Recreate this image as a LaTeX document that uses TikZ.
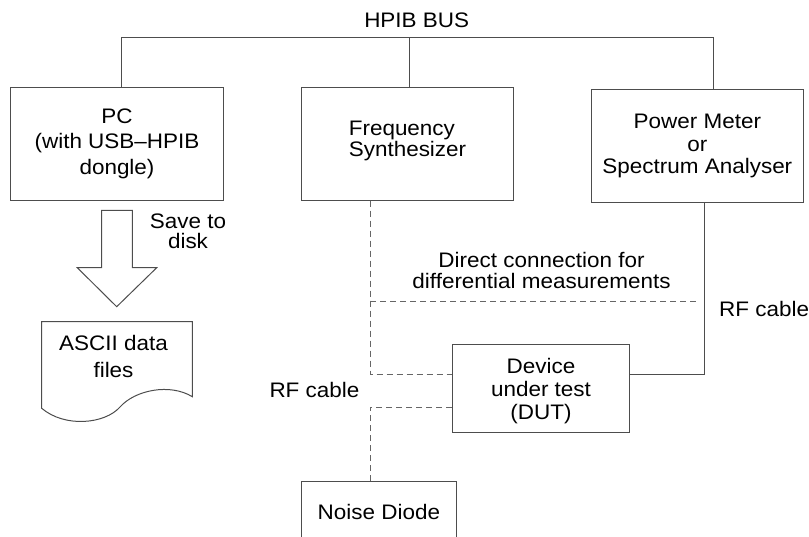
\documentclass[tikz,border=0pt]{standalone}
\usepackage{fontspec}
\setmainfont[FakeStretch=1.07]{Liberation Sans}
\definecolor{linecol}{HTML}{4D4D4D}
\definecolor{dashcol}{HTML}{666666}
\newcommand\txtsize[1]{\fontsize{21}{#1}\selectfont}
\begin{document}
\begin{tikzpicture}[x=1pt,y=-1pt,
  font=\txtsize{22},
  box/.style={draw=linecol,line width=1pt,rectangle,inner sep=0pt,align=center},
  wire/.style={draw=linecol,line width=1pt},
  dashwire/.style={draw=dashcol,line width=1pt,dash pattern=on 6pt off 4pt},
  txt/.style={inner sep=0pt}]
\useasboundingbox (0,0) rectangle (809,536);
\clip (0,0) rectangle (809,536);

% instruments on the bus
\node[box,minimum width=212.6pt,minimum height=112.7pt,font=\txtsize{25.5}] (pc) at (117,143.65)
  {PC\\(with USB--HPIB\\dongle)};
\node[box,minimum width=211.6pt,minimum height=112.7pt,align=left,font=\txtsize{21.7}] (freq) at (407.5,143.65)
  {Frequency\\Synthesizer\rule[-10pt]{0pt}{10pt}};
\node[box,minimum width=212.7pt,minimum height=113.4pt,font=\txtsize{22.2}] (power) at (697.35,146)
  {Power Meter\\or\\Spectrum Analyser};

% device under test and noise source
\node[box,minimum width=176.6pt,minimum height=88.4pt,font=\txtsize{23}] (dut) at (541,388.5)
  {\rule{0pt}{21pt}Device\\under test\\(DUT)};
\node[box,minimum width=155.7pt,text height=38pt,text depth=26pt,anchor=base] (noise) at (378.85,519)
  {Noise Diode};

% free labels
\node[txt,anchor=base] (bus) at (416.7,27.3) {HPIB BUS};
\node[txt,align=center,font=\txtsize{20}] (save) at (188,231.5) {Save to\\disk};
\node[txt,align=center,font=\txtsize{20.5}] (direct) at (541.5,270.6)
  {Direct connection for\\differential measurements};
\node[txt,anchor=base west] (rfa) at (719,316.7) {RF cable};
\node[txt,anchor=base west] (rfb) at (269.3,397.7) {RF cable};

% HPIB bus
\coordinate (busL) at (121.7,37.7);
\coordinate (busM) at (409,37.7);
\coordinate (busR) at (713.3,37.7);
\draw[wire] (pc.north -| busL) -- (busL) -- (busR) -- (power.north -| busR);
\draw[wire] (busM) -- (freq.north -| busM);

% RF paths
\coordinate (fx) at (370,374);
\draw[dashwire] (freq.south -| fx) -- (fx) -- (fx -| dut.west);
\coordinate (dl) at (370,301.7);
\coordinate (dr) at (698.3,301.7);
\draw[dashwire] (dl) -- (dr);
\coordinate (nx) at (370,407.3);
\draw[dashwire] (dut.west |- nx) -- (nx) -- (noise.north -| nx);
\coordinate (px) at (704.3,374);
\draw[wire] (power.south -| px) -- (px) -- (px -| dut.east);

% save-to-disk block arrow
\draw[wire] (101.7,210.3) -- (132.3,210.3) -- (132.3,267.7) -- (156.7,267.7)
  -- (116.7,306.7) -- (77.3,267.7) -- (101.7,267.7) -- cycle;

% data file (document symbol)
\draw[wire] (41.7,321.7) -- (192.3,321.7) -- (192.3,396.7)
  .. controls (170,383) and (135,390) .. (120,407)
  .. controls (105,424) and (65,428) .. (41.7,408.3) -- cycle;
\node[txt,align=center,font=\txtsize{27}] (ascii) at (113.5,356.7) {ASCII data\\files};
\end{tikzpicture}
\end{document}
